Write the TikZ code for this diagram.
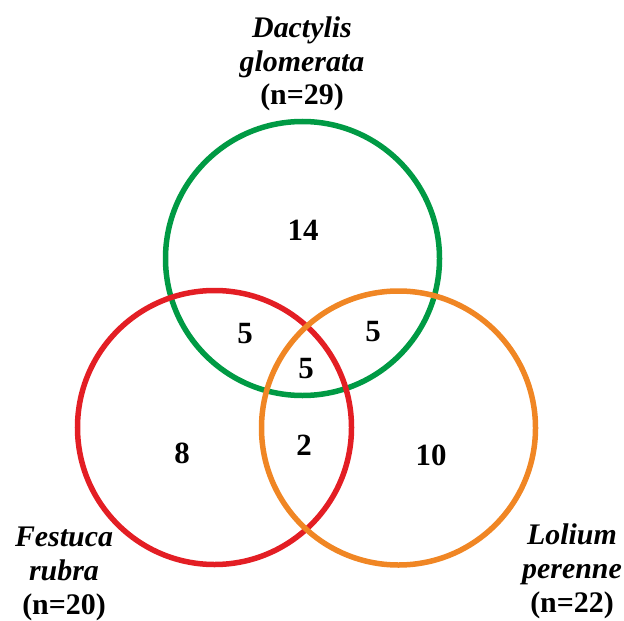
\documentclass[tikz,border=0pt]{standalone}
\usepackage{fontspec}
\setmainfont{Liberation Serif}
\definecolor{dgreen}{RGB}{0,154,68}
\definecolor{fred}{RGB}{227,30,36}
\definecolor{lorange}{RGB}{240,134,36}
\begin{document}
\begin{tikzpicture}[x=1bp,y=-1bp,
  setring/.style={circle, draw=#1, line width=5.5bp, minimum size=274bp, inner sep=0pt},
  species/.style={font=\fontsize{30}{34}\selectfont\bfseries, align=center, anchor=base, inner sep=0pt},
  count/.style={font=\fontsize{31}{34}\selectfont\bfseries, anchor=base, inner sep=0pt}]
  \useasboundingbox (0,0) rectangle (624,621);
  % the three sets
  \node[setring=dgreen]  (dg) at (302.5,258.5) {};
  \node[setring=fred]    (fr) at (214.5,427.5) {};
  \node[setring=lorange] (lp) at (398.5,428) {};
  % set labels (anchored at the baseline of their last line)
  \node[species] (ldg) at (302,105) {\textit{Dactylis}\\\textit{glomerata}\\(n=29)};
  \node[species] (lfr) at (64,614)  {\textit{Festuca}\\\textit{rubra}\\(n=20)};
  \node[species] (llp) at (572,612) {\textit{Lolium}\\\textit{perenne}\\(n=22)};
  % region counts
  \node[count] (c14)  at (303,240) {14};
  \node[count] (c5a)  at (245,343) {5};
  \node[count] (c5b)  at (373,341) {5};
  \node[count] (c5c)  at (306,378) {5};
  \node[count] (c8)   at (182,463) {8};
  \node[count] (c2)   at (304,455) {2};
  \node[count] (c10)  at (431,465) {10};
\end{tikzpicture}
\end{document}
